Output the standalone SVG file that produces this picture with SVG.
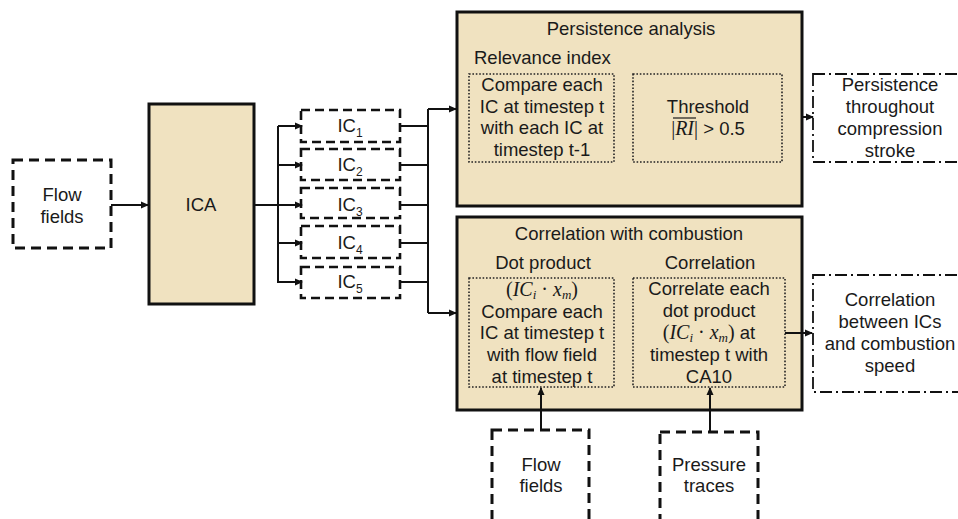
<svg xmlns="http://www.w3.org/2000/svg" width="958" height="519" viewBox="0 0 958 519">
<defs>
<marker id="ah" markerWidth="8" markerHeight="8" refX="7" refY="4" orient="auto" markerUnits="userSpaceOnUse">
<path d="M0,0.5 L8,4 L0,7.5 Z" fill="#111"/>
</marker>
<style>
text{font-family:"Liberation Sans",Arial,sans-serif;font-size:18.5px;fill:#1a1a1a;text-anchor:middle}
.l{text-anchor:start}
.m{font-family:"Liberation Serif","Times New Roman",serif;font-style:italic;font-size:20px}
.mn{font-family:"Liberation Serif","Times New Roman",serif;font-size:20px}
.sub{font-size:12px}
.ms{font-family:"Liberation Serif","Times New Roman",serif;font-style:italic;font-size:13px}
.solid{fill:#f0e2c0;stroke:#111;stroke-width:3}
.dash{fill:#fff;stroke:#111;stroke-width:3;stroke-dasharray:10 6}
.icb{fill:#fff;stroke:#111;stroke-width:2.6;stroke-dasharray:9 5}
.dot{fill:none;stroke:#222;stroke-width:1.6;stroke-dasharray:1.6 1.8}
.dd{fill:#fff;stroke:#111;stroke-width:1.8;stroke-dasharray:12 4 2 4}
.c{fill:none;stroke:#111;stroke-width:2}
</style>
</defs>
<rect width="958" height="519" fill="#fff"/>

<g id="flow-left">
<rect class="dash" x="13" y="160" width="98" height="88"/>
<text x="62" y="201">Flow</text>
<text x="62" y="223">fields</text>
</g>

<g id="ica">
<rect class="solid" x="149" y="104" width="105" height="200"/>
<text x="201" y="211">ICA</text>
</g>

<g id="ic1"><rect class="icb" x="301" y="110" width="99" height="32"/><text x="350" y="132">IC<tspan class="sub" dy="5">1</tspan></text></g>
<g id="ic2"><rect class="icb" x="301" y="149" width="99" height="31"/><text x="350" y="171">IC<tspan class="sub" dy="5">2</tspan></text></g>
<g id="ic3"><rect class="icb" x="301" y="188" width="99" height="30"/><text x="350" y="211">IC<tspan class="sub" dy="5">3</tspan></text></g>
<g id="ic4"><rect class="icb" x="301" y="226" width="99" height="32"/><text x="350" y="249">IC<tspan class="sub" dy="5">4</tspan></text></g>
<g id="ic5"><rect class="icb" x="301" y="267" width="99" height="31"/><text x="350" y="288">IC<tspan class="sub" dy="5">5</tspan></text></g>

<g id="persistence">
<rect class="solid" x="457" y="12" width="345" height="194"/>
<text x="631" y="35">Persistence analysis</text>
<text class="l" x="474" y="64">Relevance index</text>
<rect class="dot" x="469" y="74" width="145" height="88"/>
<text x="542" y="91">Compare each</text>
<text x="542" y="113">IC at timestep t</text>
<text x="542" y="134">with each IC at</text>
<text x="542" y="156">timestep t-1</text>
<rect class="dot" x="633" y="74" width="149" height="88"/>
<text x="708" y="113">Threshold</text>
<text x="708" y="135"><tspan class="mn">|</tspan><tspan class="m">RI</tspan><tspan class="mn">|</tspan><tspan> &gt; 0.5</tspan></text>
<line x1="673" y1="118" x2="696" y2="118" stroke="#1a1a1a" stroke-width="1.2"/>
</g>

<g id="persistence-out">
<rect class="dd" x="813" y="74" width="160" height="88"/>
<text x="890" y="91">Persistence</text>
<text x="890" y="113">throughout</text>
<text x="890" y="135">compression</text>
<text x="890" y="157">stroke</text>
</g>

<g id="correlation">
<rect class="solid" x="457" y="217" width="345" height="193"/>
<text x="629" y="240">Correlation with combustion</text>
<text x="543" y="269">Dot product</text>
<text x="710" y="269">Correlation</text>
<rect class="dot" x="469" y="278" width="145" height="109"/>
<text x="542" y="296"><tspan class="mn">(</tspan><tspan class="m">IC</tspan><tspan class="ms" dy="3">i</tspan><tspan class="mn" dy="-3"> · </tspan><tspan class="m">x</tspan><tspan class="ms" dy="3">m</tspan><tspan class="mn" dy="-3">)</tspan></text>
<text x="542" y="318">Compare each</text>
<text x="542" y="339">IC at timestep t</text>
<text x="542" y="361">with flow field</text>
<text x="542" y="383">at timestep t</text>
<rect class="dot" x="633" y="278" width="152" height="109"/>
<text x="709" y="295">Correlate each</text>
<text x="709" y="317">dot product</text>
<text x="709" y="339"><tspan class="mn">(</tspan><tspan class="m">IC</tspan><tspan class="ms" dy="3">i</tspan><tspan class="mn" dy="-3"> · </tspan><tspan class="m">x</tspan><tspan class="ms" dy="3">m</tspan><tspan class="mn" dy="-3">)</tspan><tspan> at</tspan></text>
<text x="709" y="361">timestep t with</text>
<text x="709" y="383">CA10</text>
</g>

<g id="correlation-out">
<rect class="dd" x="813" y="275" width="160" height="117"/>
<text x="890" y="306">Correlation</text>
<text x="890" y="328">between ICs</text>
<text x="890" y="350">and combustion</text>
<text x="890" y="372">speed</text>
</g>

<g id="flow-bottom">
<rect class="dash" x="492" y="430" width="97" height="100"/>
<text x="541" y="471">Flow</text>
<text x="541" y="492">fields</text>
</g>

<g id="pressure">
<rect class="dash" x="660" y="432" width="98" height="100"/>
<text x="709" y="471">Pressure</text>
<text x="709" y="492">traces</text>
</g>

<g id="connectors">
<line class="c" x1="111" y1="205" x2="148" y2="205" marker-end="url(#ah)"/>
<line class="c" x1="254" y1="205" x2="278" y2="205"/>
<line class="c" x1="278" y1="126" x2="278" y2="283"/>
<line class="c" x1="278" y1="126" x2="302" y2="126" marker-end="url(#ah)"/>
<line class="c" x1="278" y1="165" x2="302" y2="165" marker-end="url(#ah)"/>
<line class="c" x1="278" y1="205" x2="302" y2="205" marker-end="url(#ah)"/>
<line class="c" x1="278" y1="243" x2="302" y2="243" marker-end="url(#ah)"/>
<line class="c" x1="278" y1="282" x2="302" y2="282" marker-end="url(#ah)"/>
<line class="c" x1="400" y1="126" x2="428" y2="126"/>
<line class="c" x1="400" y1="165" x2="428" y2="165"/>
<line class="c" x1="400" y1="205" x2="428" y2="205"/>
<line class="c" x1="400" y1="243" x2="428" y2="243"/>
<line class="c" x1="400" y1="282" x2="428" y2="282"/>
<line class="c" x1="428" y1="109" x2="428" y2="313"/>
<line class="c" x1="428" y1="109" x2="456" y2="109" marker-end="url(#ah)"/>
<line class="c" x1="428" y1="313" x2="456" y2="313" marker-end="url(#ah)"/>
<line class="c" x1="802" y1="117" x2="813" y2="117" marker-end="url(#ah)"/>
<line class="c" x1="785" y1="333" x2="812" y2="333" marker-end="url(#ah)"/>
<line class="c" x1="541" y1="430" x2="541" y2="388" marker-end="url(#ah)"/>
<line class="c" x1="710" y1="432" x2="710" y2="388" marker-end="url(#ah)"/>
</g>
</svg>
